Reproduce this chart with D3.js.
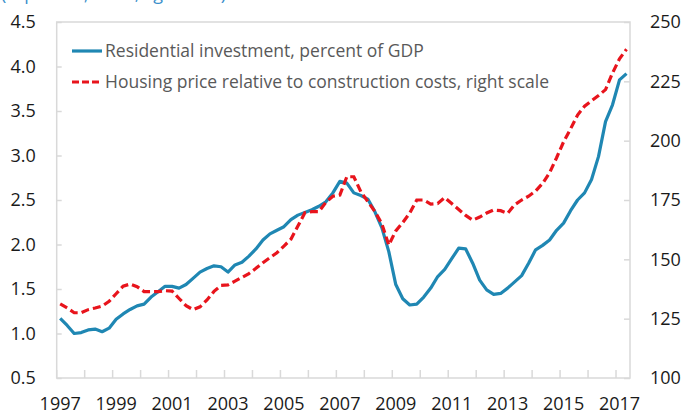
<!DOCTYPE html>
<html>
<head>
<meta charset="utf-8">
<script src="https://cdn.jsdelivr.net/npm/d3@7"></script>
<style>
  body { margin: 0; background: #fff; }
  svg { display: block; font-family: "Open Sans", sans-serif; }
</style>
</head>
<body>
<svg id="chart"></svg>
<script>
// Quarterly data, 1997Q1 - 2017Q2
const years = d3.range(1997, 2018);
const quarters = [];
years.forEach(y => [1, 2, 3, 4].forEach(q => quarters.push(y + "Q" + q)));
quarters.splice(82); // data stops at 2017Q2

// Residential investment, percent of GDP (left scale)
const resInvestment = [
  1.17, 1.09, 1.00, 1.01, 1.04, 1.05, 1.02, 1.06,
  1.16, 1.22, 1.27, 1.31, 1.33, 1.41, 1.47, 1.53,
  1.53, 1.51, 1.55, 1.62, 1.69, 1.73, 1.76, 1.75,
  1.69, 1.77, 1.80, 1.87, 1.95, 2.05, 2.12, 2.16,
  2.20, 2.28, 2.33, 2.36, 2.39, 2.43, 2.48, 2.58,
  2.71, 2.69, 2.58, 2.55, 2.51, 2.37, 2.19, 1.92,
  1.55, 1.39, 1.32, 1.33, 1.41, 1.51, 1.64, 1.72,
  1.84, 1.96, 1.95, 1.79, 1.60, 1.49, 1.44, 1.45,
  1.51, 1.58, 1.65, 1.79, 1.94, 1.99, 2.05, 2.16,
  2.24, 2.38, 2.50, 2.58, 2.73, 2.99, 3.38, 3.57,
  3.85, 3.92
];

// Housing price relative to construction costs (right scale)
const priceToCost = [
  131.2, 129.5, 127.5, 127.5, 128.8, 129.5, 130.3, 132.3,
  135.5, 138.7, 139.6, 138.5, 136.4, 136.4, 136.4, 136.8,
  136.6, 133.5, 130.5, 128.8, 130.0, 132.9, 136.5, 139.0,
  139.2, 140.8, 142.4, 144.0, 146.2, 148.6, 150.7, 152.8,
  155.6, 158.5, 164.0, 169.6, 170.1, 170.1, 174.0, 176.6,
  177.1, 184.8, 184.8, 178.5, 174.3, 170.2, 165.0, 156.0,
  162.0, 165.5, 169.5, 175.0, 175.0, 173.3, 173.5, 176.0,
  173.5, 171.0, 168.5, 166.5, 167.8, 169.5, 170.8, 170.5,
  169.4, 173.0, 175.0, 176.6, 178.8, 182.0, 186.5, 192.8,
  199.5, 205.0, 210.8, 214.5, 216.8, 219.0, 221.5, 228.5,
  234.5, 238.5
];

const leftTicks = [0.5, 1.0, 1.5, 2.0, 2.5, 3.0, 3.5, 4.0, 4.5];
const rightTicks = [100, 125, 150, 175, 200, 225, 250];
const labelYears = [1997, 1999, 2001, 2003, 2005, 2007, 2009, 2011, 2013, 2015, 2017];

const legendLabels = [
  "Residential investment, percent of GDP",
  "Housing price relative to construction costs, right scale"
];
const subtitle = "(In percent; index, right scale)";

const width = 683, height = 414;
const plot = {left: 56.7, right: 630, top: 22, bottom: 378};
const blue = "#1f87b3", red = "#e8141c", axisGray = "#d9d9d9";

const svg = d3.select("#chart")
    .attr("width", width)
    .attr("height", height);

// Scales
const x = d3.scaleBand()
    .domain(quarters)
    .range([plot.left, plot.right])
    .padding(0);
const xc = q => x(q) + x.bandwidth() / 2;

const yLeft = d3.scaleLinear()
    .domain([0.5, 4.5])
    .range([plot.bottom, plot.top]);

const yRight = d3.scaleLinear()
    .domain([100, 250])
    .range([plot.bottom, plot.top]);

// Subtitle, mostly above the top edge as in the source image
svg.append("text")
    .attr("x", 1)
    .attr("y", 0)
    .attr("textLength", 225)
    .attr("fill", "#3b8fcb")
    .style("font-size", "18px")
    .text(subtitle);

// Plot frame
svg.append("rect")
    .attr("x", plot.left)
    .attr("y", plot.top)
    .attr("width", plot.right - plot.left)
    .attr("height", plot.bottom - plot.top)
    .attr("fill", "none")
    .attr("stroke", axisGray)
    .attr("stroke-width", 1.5);

// Left axis
const gLeft = svg.append("g")
    .attr("transform", `translate(${plot.left}, 0)`)
    .call(d3.axisLeft(yLeft).tickValues(leftTicks).tickFormat(d3.format(".1f"))
        .tickSize(-5).tickPadding(21));

// Right axis
const gRight = svg.append("g")
    .attr("transform", `translate(${plot.right}, 0)`)
    .call(d3.axisRight(yRight).tickValues(rightTicks)
        .tickSize(-6).tickPadding(20));

// Bottom axis: labels centred on the first quarter of every other year
const gBottom = svg.append("g")
    .attr("transform", `translate(0, ${plot.bottom})`)
    .call(d3.axisBottom(x).tickValues(labelYears.map(y => y + "Q1"))
        .tickFormat(q => q.slice(0, 4)).tickSize(0).tickPadding(19));

// year tick marks at the start of each year, pointing inwards
svg.append("g").selectAll("line")
    .data(years)
    .enter().append("line")
    .attr("x1", y => x(y + "Q1"))
    .attr("x2", y => x(y + "Q1"))
    .attr("y1", plot.bottom)
    .attr("y2", plot.bottom - 8)
    .attr("stroke", axisGray)
    .attr("stroke-width", 1.5);

[gLeft, gRight, gBottom].forEach(g => {
    g.select(".domain").remove();
    g.selectAll(".tick line").attr("stroke", axisGray).attr("stroke-width", 1.5);
    g.selectAll("text")
        .attr("fill", "#1a1a1a")
        .style("font-size", "18px")
        .style("font-family", "'Open Sans', sans-serif");
});

// Lines
const lineLeft = d3.line()
    .x((d, i) => xc(quarters[i]))
    .y(d => yLeft(d));

const lineRight = d3.line()
    .x((d, i) => xc(quarters[i]))
    .y(d => yRight(d));

svg.append("path")
    .datum(resInvestment)
    .attr("d", lineLeft)
    .attr("fill", "none")
    .attr("stroke", blue)
    .attr("stroke-width", 3.2)
    .attr("stroke-linejoin", "round");

svg.append("path")
    .datum(priceToCost)
    .attr("d", lineRight)
    .attr("fill", "none")
    .attr("stroke", red)
    .attr("stroke-width", 3.2)
    .attr("stroke-dasharray", "8,4");

// Legend
const legend = svg.selectAll(".legend")
    .data(legendLabels)
    .enter().append("g")
    .attr("class", "legend")
    .attr("transform", (d, i) => `translate(72, ${51 + i * 31})`);

legend.append("line")
    .attr("x1", 0)
    .attr("x2", 30)
    .attr("stroke", (d, i) => i === 0 ? blue : red)
    .attr("stroke-width", 3.2)
    .attr("stroke-dasharray", (d, i) => i === 0 ? null : "7,3");

legend.append("text")
    .attr("x", 33)
    .attr("y", 6)
    .attr("fill", "#595959")
    .style("font-size", "17.5px")
    .text(d => d);
</script>
</body>
</html>
